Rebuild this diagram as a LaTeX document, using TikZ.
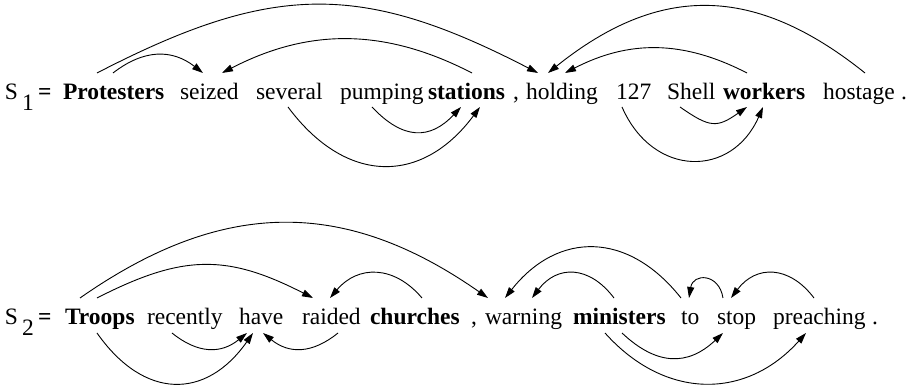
\documentclass[tikz,border=0pt]{standalone}
\usepackage{fontspec}
\setmainfont{Liberation Serif}
\usetikzlibrary{arrows.meta}
\begin{document}
\begin{tikzpicture}[x=1pt,y=1pt,
  word/.style={anchor=base west,inner sep=0pt,outer sep=0pt,
    font=\rmfamily\fontsize{23.5}{28}\selectfont},
  head/.style={word,font=\rmfamily\fontsize{23.5}{28}\selectfont\bfseries},
  dep/.style={line width=0.9pt,-{Triangle[length=11pt,width=7pt]}}]
\useasboundingbox (0,0) rectangle (910,387);

% ---------- sentence 1 ----------
\node[word] (sA) at (5,287) {S};
\node[word] (sAi) at (22,276) {1};
\node[head] (sAeq) at (38,287) {=};
\node[head] (Protesters) at (63,287) {Protesters};
\node[word] (seized) at (180,287) {seized};
\node[word] (several) at (256,287) {several};
\node[word] (pumping) at (340,287) {pumping};
\node[head] (stations) at (428,287) {stations};
\node[word] (commaA) at (513,287) {,};
\node[word] (holding) at (526,287) {holding};
\node[word] (n127) at (616,287) {127};
\node[word] (Shell) at (667,287) {Shell};
\node[head] (workers) at (723,287) {workers};
\node[word] (hostage) at (823,287) {hostage};
\node[word] (stopA) at (901,287) {.};

% arcs above sentence 1
\draw[dep] ([xshift=50,yshift=27]Protesters.base west) .. controls +(31,24) and +(-31,24) .. ([xshift=23,yshift=27]seized.base west);
\draw[dep] ([xshift=34,yshift=27]Protesters.base west) .. controls +(176,91) and +(-176,91) .. ([xshift=12,yshift=27]holding.base west);
\draw[dep] ([xshift=44,yshift=27]stations.base west) .. controls +(-87,45) and +(87,45) .. ([xshift=42,yshift=27]seized.base west);
\draw[dep] ([xshift=42,yshift=27]hostage.base west) .. controls +(-111,89) and +(111,89) .. ([xshift=22,yshift=27]holding.base west);
\draw[dep] ([xshift=24,yshift=27]workers.base west) .. controls +(-64,33) and +(64,33) .. ([xshift=39,yshift=27]holding.base west);
% arcs below sentence 1
\draw[dep] ([xshift=32,yshift=-7]several.base west) .. controls +(58,-78) and +(-58,-78) .. ([xshift=52,yshift=-7]stations.base west);
\draw[dep] ([xshift=32,yshift=-7]pumping.base west) .. controls +(31,-33) and +(-31,-33) .. ([xshift=33,yshift=-7]stations.base west);
\draw[dep] ([xshift=6,yshift=-7]n127.base west) .. controls +(31,-71) and +(-31,-71) .. ([xshift=40,yshift=-7]workers.base west);
\draw[dep] ([xshift=13,yshift=-7]Shell.base west) .. controls +(30,-21) and +(-30,-21) .. ([xshift=24,yshift=-7]workers.base west);

% ---------- sentence 2 ----------
\node[word] (sB) at (5,62) {S};
\node[word] (sBi) at (22,51) {2};
\node[head] (sBeq) at (38,62) {=};
\node[head] (Troops) at (65,62) {Troops};
\node[word] (recently) at (147,62) {recently};
\node[word] (have) at (239,62) {have};
\node[word] (raided) at (302,62) {raided};
\node[head] (churches) at (370,62) {churches};
\node[word] (commaB) at (471,62) {,};
\node[word] (warning) at (485,62) {warning};
\node[head] (ministers) at (573,62) {ministers};
\node[word] (to) at (681,62) {to};
\node[word] (stop) at (717,62) {stop};
\node[word] (preaching) at (773,62) {preaching};
\node[word] (stopB) at (872,62) {.};

% arcs above sentence 2
\draw[dep] ([xshift=32,yshift=27]Troops.base west) .. controls +(86,44) and +(-86,44) .. ([xshift=11,yshift=27]raided.base west);
\draw[dep] ([xshift=15,yshift=27]Troops.base west) .. controls +(143,100) and +(-143,100) .. ([xshift=3,yshift=27]warning.base west);
\draw[dep] ([xshift=52,yshift=27]churches.base west) .. controls +(-28,33) and +(28,33) .. ([xshift=28,yshift=27]raided.base west);
\draw[dep] ([xshift=0,yshift=27]to.base west) .. controls +(-53,67) and +(53,67) .. ([xshift=20,yshift=27]warning.base west);
\draw[dep] ([xshift=41,yshift=27]ministers.base west) .. controls +(-25,33) and +(25,33) .. ([xshift=47,yshift=27]warning.base west);
\draw[dep] ([xshift=6,yshift=27]stop.base west) .. controls +(-4,25) and +(4,25) .. ([xshift=8,yshift=27]to.base west);
\draw[dep] ([xshift=41,yshift=27]preaching.base west) .. controls +(-25,33) and +(25,33) .. ([xshift=14,yshift=27]stop.base west);
% arcs below sentence 2
\draw[dep] ([xshift=25,yshift=-8]recently.base west) .. controls +(26,-21) and +(-26,-21) .. ([xshift=8,yshift=-8]have.base west);
\draw[dep] ([xshift=32,yshift=-8]Troops.base west) .. controls +(47,-67) and +(-47,-67) .. ([xshift=14,yshift=-8]have.base west);
\draw[dep] ([xshift=36,yshift=-8]raided.base west) .. controls +(-26,-21) and +(26,-21) .. ([xshift=24,yshift=-8]have.base west);
\draw[dep] ([xshift=49,yshift=-8]ministers.base west) .. controls +(35,-33) and +(-35,-33) .. ([xshift=6,yshift=-8]stop.base west);
\draw[dep] ([xshift=32,yshift=-8]ministers.base west) .. controls +(60,-67) and +(-60,-67) .. ([xshift=33,yshift=-8]preaching.base west);
\end{tikzpicture}
\end{document}
